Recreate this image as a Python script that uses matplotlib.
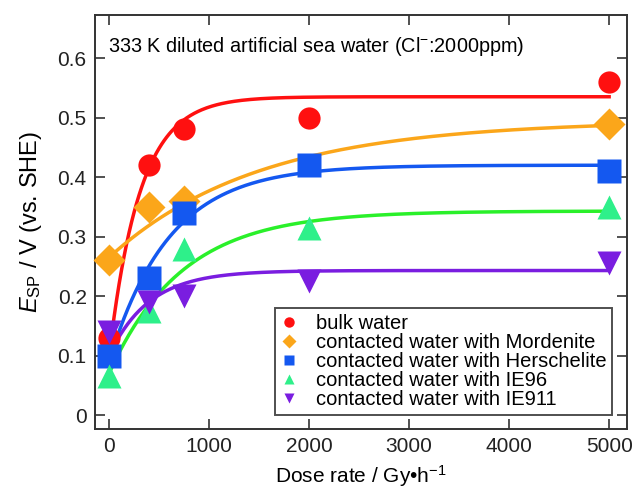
import numpy as np
import matplotlib
matplotlib.use("Agg")
import matplotlib.pyplot as plt

plt.rcParams["font.family"] = ["Liberation Sans", "DejaVu Sans"]
plt.rcParams["mathtext.fontset"] = "custom"
plt.rcParams["mathtext.rm"] = "Liberation Sans"
plt.rcParams["mathtext.it"] = "Liberation Sans:italic"

# measured points (dose rate in Gy/h, potential in V vs SHE)
dose = [0, 400, 750, 2000, 5000]
bulk = [0.13, 0.42, 0.48, 0.50, 0.56]
mordenite = [0.26, 0.35, 0.36, np.nan, 0.49]
herschelite = [0.10, 0.23, 0.34, 0.42, 0.41]
ie96 = [0.065, 0.175, 0.28, 0.315, 0.35]
ie911 = [0.14, 0.19, 0.20, 0.225, 0.255]

labels = ["bulk water",
          "contacted water with Mordenite",
          "contacted water with Herschelite",
          "contacted water with IE96",
          "contacted water with IE911"]

# fitted curves y = plateau - (plateau - start) * exp(-x / tau)
fit_start = [0.10, 0.265, 0.09, 0.07, 0.10]
fit_plateau = [0.535, 0.495, 0.42, 0.343, 0.243]
fit_tau = [310, 1500, 600, 730, 400]

marker_col = ["#ff1010", "#fba61a", "#1458f0", "#2ef08a", "#7a1de0"]
line_col = ["#ff1010", "#fba61a", "#1458f0", "#2af02a", "#7a1de0"]
markers = ["o", "D", "s", "^", "v"]
msizes = [16, 16, 17, 17, 17]
series = [bulk, mordenite, herschelite, ie96, ie911]

fig = plt.figure(figsize=(6.38, 4.91), dpi=100)
ax = fig.add_axes([0.149, 0.126, 0.834, 0.843])

xf = np.linspace(0, 5000, 400)
for i in range(5):
    yf = fit_plateau[i] - (fit_plateau[i] - fit_start[i]) * np.exp(-xf / fit_tau[i])
    ax.plot(xf, yf, color=line_col[i], lw=2.5, zorder=2)

handles = []
for i in range(5):
    ax.plot(dose, series[i], ls="none", marker=markers[i], ms=msizes[i],
            color=marker_col[i], mec="none", zorder=3, clip_on=False)
    h, = ax.plot([], [], ls="none", marker=markers[i], ms=7.5,
                 color=marker_col[i], mec="none", label=labels[i])
    handles.append(h)

ax.set_xlim(-140, 5180)
ax.set_ylim(-0.0235, 0.672)
ax.set_xticks(range(0, 5001, 1000))
ax.set_yticks(np.arange(0, 0.61, 0.1))
ax.set_yticklabels(["0", "0.1", "0.2", "0.3", "0.4", "0.5", "0.6"])
ax.tick_params(direction="in", length=7, width=1.2, labelsize=15,
               top=True, right=True, colors="#333333", labelcolor="#222222", pad=6)
for s in ax.spines.values():
    s.set_linewidth(1.4)
    s.set_color("#333333")

ax.set_xlabel("Dose rate / Gy\u2022h$^{-1}$", fontsize=15, labelpad=5)
ax.set_ylabel("$E_{\\rm SP}$ / V (vs. SHE)", fontsize=17, labelpad=10)

ax.text(0.024, 0.925, "333 K diluted artificial sea water (Cl$^{-}$:2000ppm)",
        transform=ax.transAxes, fontsize=14.3, va="center", ha="left")

leg = ax.legend(handles=handles, loc="lower right", bbox_to_anchor=(0.972, 0.034),
                fontsize=14.5, frameon=True, fancybox=False, handlelength=0.8,
                handletextpad=0.9, labelspacing=0.0, borderpad=0.3,
                borderaxespad=0)
leg.get_frame().set_edgecolor("#222222")
leg.get_frame().set_linewidth(1.4)
leg.set_zorder(5)

fig.savefig("out.png", dpi=100)
